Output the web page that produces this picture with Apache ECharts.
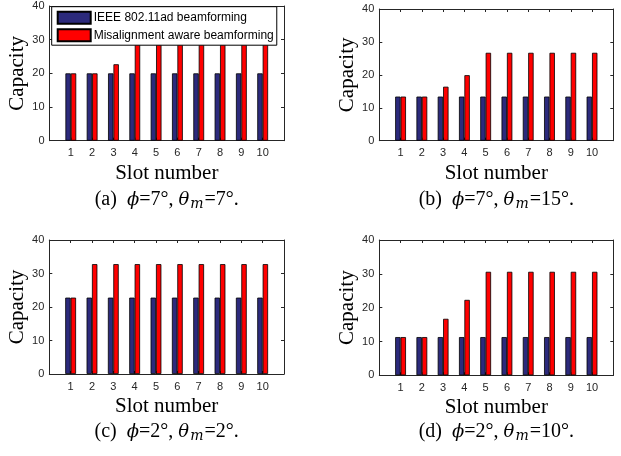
<!DOCTYPE html>
<html><head><meta charset="utf-8">
<script src="https://cdn.jsdelivr.net/npm/echarts@6/dist/echarts.min.js"></script>
<style>html,body{margin:0;padding:0;background:#fff}#c{width:621px;height:456px}</style>
</head><body><div id="c"></div>
<script>
const slots = [1,2,3,4,5,6,7,8,9,10];
const yTicks = [0,10,20,30,40];
const seriesNames = ['IEEE 802.11ad beamforming','Misalignment aware beamforming'];
const ieeeA = [20,20,20,20,20,20,20,20,20,20];
const misA  = [20,20,22.7,28.7,28.7,28.7,28.7,28.7,28.7,28.7];
const ieeeB = [13.4,13.4,13.4,13.4,13.4,13.4,13.4,13.4,13.4,13.4];
const misB  = [13.4,13.4,16.4,19.9,26.7,26.7,26.7,26.7,26.7,26.7];
const ieeeC = [22.8,22.8,22.8,22.8,22.8,22.8,22.8,22.8,22.8,22.8];
const misC  = [22.8,32.8,32.8,32.8,32.8,32.8,32.8,32.8,32.8,32.8];
const ieeeD = [11.3,11.3,11.3,11.3,11.3,11.3,11.3,11.3,11.3,11.3];
const misD  = [11.3,11.3,16.7,22.3,30.6,30.6,30.6,30.6,30.6,30.6];
const captionTags = ['(a)','(b)','(c)','(d)'];
const phiVals = ['7','7','2','2'];
const thetaVals = ['7','15','2','10'];

const panels = [[ieeeA,misA],[ieeeB,misB],[ieeeC,misC],[ieeeD,misD]];
const grids = [
  {left:49.5, top:6, width:234.5, height:134.7},
  {left:379.3, top:9, width:234, height:131.7},
  {left:49.3, top:240, width:234.7, height:134},
  {left:379.3, top:240, width:234, height:135.3}
];
const capY = [200, 200, 432, 432];
const axisCol = '#262626';
const sans = 'Liberation Sans';
const serif = 'Liberation Serif';
const colors = ['#2c2a7c','#ff0000'];

const xAxis = [], yAxis = [], series = [], graphic = [];
grids.forEach((g,i)=>{
  xAxis.push({type:'value', gridIndex:i, min:0, max:11, interval:1, position:'bottom',
    axisLine:{show:true, onZero:false, lineStyle:{color:axisCol,width:1}},
    axisTick:{show:true, inside:true, length:3, lineStyle:{color:axisCol}},
    splitLine:{show:false},
    axisLabel:{color:axisCol, fontFamily:sans, fontSize:11, margin:7,
      formatter:v=> (slots.indexOf(v)>=0 ? String(v) : '')},
    name:'Slot number', nameLocation:'middle', nameGap:22,
    nameTextStyle:{fontFamily:serif, fontSize:21, color:'#000'}});
  xAxis.push({type:'value', gridIndex:i, min:0, max:11, interval:1, position:'top',
    axisLine:{show:true, onZero:false, lineStyle:{color:axisCol,width:1}},
    axisTick:{show:true, inside:true, length:3, lineStyle:{color:axisCol}},
    splitLine:{show:false}, axisLabel:{show:false}});
  yAxis.push({type:'value', gridIndex:i, min:yTicks[0], max:yTicks[yTicks.length-1], interval:10, position:'left',
    axisLine:{show:true, onZero:false, lineStyle:{color:axisCol,width:1}},
    axisTick:{show:true, inside:true, length:3, lineStyle:{color:axisCol}},
    splitLine:{show:false},
    axisLabel:{color:axisCol, fontFamily:sans, fontSize:11, margin:5},
    name:'Capacity', nameLocation:'middle', nameGap:16, nameRotate:90,
    nameTextStyle:{fontFamily:serif, fontSize:21, color:'#000'}});
  yAxis.push({type:'value', gridIndex:i, min:yTicks[0], max:yTicks[yTicks.length-1], interval:10, position:'right',
    axisLine:{show:true, onZero:false, lineStyle:{color:axisCol,width:1}},
    axisTick:{show:true, inside:true, length:3, lineStyle:{color:axisCol}},
    splitLine:{show:false}, axisLabel:{show:false}});
  panels[i].forEach((vals,k)=>{
    series.push({type:'bar', name:seriesNames[k], xAxisIndex:2*i, yAxisIndex:2*i,
      barWidth:5.4, barGap:'0%',
      itemStyle:{color:colors[k], borderColor:'#000', borderWidth:0.8},
      data: slots.map((s,j)=>[s, vals[j]])});
  });
  const cx = g.left + g.width/2;
  graphic.push({type:'text', x:cx, y:capY[i], style:{
    text:`{n|${captionTags[i]}  }{i|ϕ}{n|=${phiVals[i]}°, }{i|θ}{s|m}{n|=${thetaVals[i]}°.}`,
    align:'center', verticalAlign:'middle',
    rich:{
      n:{fontFamily:serif, fontSize:20, fill:'#000'},
      i:{fontFamily:'DejaVu Serif', fontSize:18, fontStyle:'italic', fill:'#000'},
      s:{fontFamily:'DejaVu Serif', fontSize:14, fontStyle:'italic', fill:'#000', padding:[8,1,0,1]}
    }}});
});

const chart = echarts.init(document.getElementById('c'), null, {renderer:'canvas'});
chart.setOption({
  animation:false,
  grid: grids,
  xAxis, yAxis, series, graphic,
  legend:{data:seriesNames, orient:'vertical', left:51.7, top:6.7, padding:[4,3,3,5],
    itemWidth:33, itemHeight:12, itemGap:3.5, icon:'rect',
    backgroundColor:'#fff', borderColor:'#000', borderWidth:1,
    textStyle:{fontFamily:sans, fontSize:12, color:'#000', padding:[0,0,0,-2]}}
});
</script></body></html>
